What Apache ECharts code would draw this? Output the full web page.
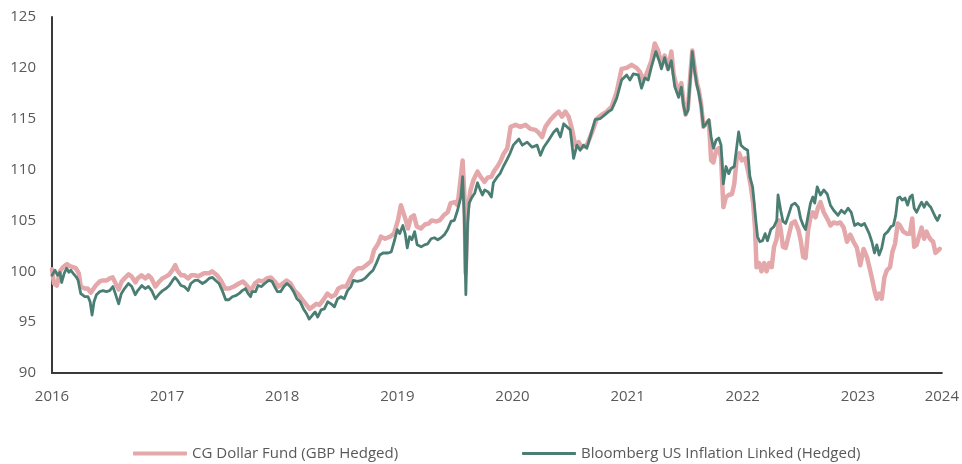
<!DOCTYPE html>
<html>
<head>
<meta charset="utf-8">
<title>CG Dollar Fund vs Bloomberg US Inflation Linked</title>
<script src="https://cdn.jsdelivr.net/npm/echarts@6/dist/echarts.min.js"></script>
<style>
  html, body { margin: 0; padding: 0; background: #fff; }
  #chart { width: 962px; height: 464px; }
</style>
</head>
<body>
<div id="chart"></div>
<script>
// series names (legend order)
var seriesNames = ['CG Dollar Fund (GBP Hedged)', 'Bloomberg US Inflation Linked (Hedged)'];

// y axis ticks
var yMin = 90, yMax = 125, yStep = 5;
// x axis: start of 2016 to end of data (last label reads 2024)
var xStart = 2016, xEnd = 2023.73;

// CG Dollar Fund (GBP Hedged) - time in decimal years, value rebased to 100
var fundTime = [
  2016.000, 2016.017, 2016.043, 2016.069, 2016.095, 2016.130, 2016.155, 2016.181, 2016.207, 2016.233,
  2016.250, 2016.285, 2016.311, 2016.337, 2016.354, 2016.380, 2016.415, 2016.440, 2016.475, 2016.501,
  2016.527, 2016.553, 2016.579, 2016.605, 2016.630, 2016.665, 2016.691, 2016.725, 2016.743, 2016.777,
  2016.812, 2016.838, 2016.864, 2016.898, 2016.933, 2016.959, 2016.993, 2017.019, 2017.045, 2017.071,
  2017.088, 2017.123, 2017.149, 2017.183, 2017.209, 2017.244, 2017.269, 2017.321, 2017.364, 2017.390,
  2017.434, 2017.468, 2017.503, 2017.537, 2017.580, 2017.624, 2017.658, 2017.693, 2017.727, 2017.762,
  2017.796, 2017.831, 2017.865, 2017.900, 2017.934, 2017.969, 2018.004, 2018.038, 2018.073, 2018.107,
  2018.142, 2018.176, 2018.211, 2018.237, 2018.263, 2018.297, 2018.323, 2018.358, 2018.392, 2018.427,
  2018.461, 2018.487, 2018.522, 2018.556, 2018.591, 2018.625, 2018.660, 2018.694, 2018.729, 2018.772,
  2018.798, 2018.833, 2018.858, 2018.893, 2018.936, 2018.971, 2019.005, 2019.031, 2019.048, 2019.074,
  2019.092, 2019.118, 2019.144, 2019.169, 2019.204, 2019.239, 2019.273, 2019.299, 2019.333, 2019.368,
  2019.403, 2019.437, 2019.463, 2019.498, 2019.523, 2019.549, 2019.567, 2019.584, 2019.593, 2019.610,
  2019.636, 2019.662, 2019.696, 2019.722, 2019.757, 2019.783, 2019.817, 2019.843, 2019.869, 2019.895,
  2019.921, 2019.955, 2019.984, 2020.027, 2020.070, 2020.113, 2020.157, 2020.200, 2020.229, 2020.258,
  2020.286, 2020.329, 2020.372, 2020.402, 2020.430, 2020.459, 2020.488, 2020.517, 2020.545, 2020.574,
  2020.603, 2020.646, 2020.689, 2020.733, 2020.776, 2020.819, 2020.862, 2020.905, 2020.948, 2020.992,
  2021.035, 2021.078, 2021.107, 2021.136, 2021.164, 2021.207, 2021.236, 2021.265, 2021.294, 2021.322,
  2021.352, 2021.380, 2021.400, 2021.423, 2021.443, 2021.467, 2021.486, 2021.504, 2021.524, 2021.544,
  2021.562, 2021.581, 2021.602, 2021.619, 2021.639, 2021.659, 2021.682, 2021.706, 2021.726, 2021.746,
  2021.769, 2021.792, 2021.812, 2021.832, 2021.855, 2021.879, 2021.907, 2021.927, 2021.948, 2021.970,
  2021.993, 2022.022, 2022.051, 2022.071, 2022.091, 2022.108, 2022.120, 2022.143, 2022.163, 2022.186,
  2022.207, 2022.229, 2022.252, 2022.272, 2022.293, 2022.316, 2022.330, 2022.350, 2022.373, 2022.397,
  2022.425, 2022.454, 2022.483, 2022.503, 2022.526, 2022.546, 2022.569, 2022.589, 2022.609, 2022.632,
  2022.655, 2022.676, 2022.704, 2022.719, 2022.742, 2022.762, 2022.790, 2022.820, 2022.848, 2022.877,
  2022.906, 2022.935, 2022.963, 2022.992, 2023.021, 2023.050, 2023.079, 2023.107, 2023.127, 2023.145,
  2023.165, 2023.185, 2023.208, 2023.231, 2023.252, 2023.280, 2023.300, 2023.323, 2023.347, 2023.366,
  2023.395, 2023.424, 2023.453, 2023.473, 2023.490, 2023.511, 2023.531, 2023.554, 2023.576, 2023.597,
  2023.617, 2023.634, 2023.654, 2023.675, 2023.692, 2023.712
];
var fundValue = [
  100.2, 98.8, 98.6, 100.0, 100.4, 100.7, 100.5, 100.4, 100.3, 99.8,
  98.5, 98.3, 98.3, 97.9, 98.0, 98.6, 99.0, 99.1, 99.1, 99.3,
  99.4, 98.8, 98.2, 99.0, 99.3, 99.7, 99.5, 98.9, 99.3, 99.6,
  99.3, 99.6, 99.3, 98.5, 99.0, 99.3, 99.5, 99.7, 100.1, 100.6,
  100.1, 99.6, 99.6, 99.3, 99.6, 99.6, 99.5, 99.8, 99.8, 100.0,
  99.6, 99.1, 98.3, 98.3, 98.5, 98.8, 99.0, 98.6, 98.1, 98.8,
  99.1, 99.0, 99.3, 99.4, 99.0, 98.5, 98.8, 99.1, 98.8, 98.1,
  97.7, 97.2, 96.7, 96.3, 96.5, 96.8, 96.7, 97.2, 97.8, 97.5,
  97.7, 98.3, 98.5, 98.5, 99.3, 100.0, 100.3, 100.3, 100.6, 101.0,
  102.1, 102.7, 103.4, 103.2, 103.4, 103.7, 105.0, 106.5, 106.4, 105.0,
  104.2, 105.3, 105.5, 104.4, 104.2, 104.6, 104.7, 105.0, 104.9, 105.0,
  105.5, 105.8, 106.7, 106.8, 106.5, 109.0, 110.9, 107.0, 99.8, 106.0,
  108.0, 109.0, 109.8, 109.3, 108.8, 109.2, 109.3, 109.9, 110.3, 110.8,
  111.5, 112.1, 114.2, 114.4, 114.2, 114.4, 114.0, 113.9, 113.6, 113.2,
  114.2, 114.9, 115.4, 115.7, 115.2, 115.7, 115.2, 114.0, 112.4, 112.7,
  112.2, 112.4, 113.6, 115.0, 115.4, 115.7, 116.2, 117.6, 119.9, 120.0,
  120.3, 120.0, 119.6, 118.8, 119.4, 120.7, 122.4, 121.7, 120.4, 121.2,
  119.9, 121.6, 119.4, 118.3, 117.7, 118.5, 116.6, 115.4, 116.0, 119.1,
  121.7, 120.1, 118.5, 117.8, 116.4, 114.2, 114.5, 114.8, 110.9, 110.7,
  111.9, 112.1, 111.2, 106.3, 107.3, 107.5, 107.6, 108.6, 111.1, 111.6,
  110.9, 111.1, 109.6, 108.3, 106.7, 104.1, 100.4, 100.8, 100.0, 100.8,
  100.0, 100.8, 100.4, 102.4, 103.1, 105.0, 104.1, 102.4, 102.3, 103.4,
  104.7, 104.9, 104.1, 103.1, 101.4, 101.3, 104.1, 105.3, 105.8, 105.3,
  106.3, 106.8, 105.8, 105.8, 105.0, 104.5, 104.8, 104.7, 104.8, 104.3,
  102.9, 103.6, 102.9, 102.3, 100.6, 102.2, 101.4, 100.1, 99.1, 98.1,
  97.3, 97.8, 97.3, 99.4, 100.1, 100.4, 101.9, 102.7, 104.7, 104.5,
  103.9, 103.7, 103.7, 105.2, 102.4, 102.6, 103.4, 104.3, 103.2, 103.9,
  103.4, 103.1, 102.9, 101.8, 101.9, 102.2
];

// Bloomberg US Inflation Linked (Hedged)
var indexTime = [
  2016.000, 2016.026, 2016.049, 2016.069, 2016.084, 2016.106, 2016.127, 2016.147, 2016.164, 2016.184,
  2016.213, 2016.227, 2016.250, 2016.285, 2016.313, 2016.331, 2016.348, 2016.365, 2016.386, 2016.415,
  2016.443, 2016.472, 2016.501, 2016.529, 2016.550, 2016.579, 2016.602, 2016.630, 2016.665, 2016.693,
  2016.723, 2016.745, 2016.780, 2016.809, 2016.838, 2016.866, 2016.898, 2016.933, 2016.961, 2016.991,
  2017.019, 2017.048, 2017.068, 2017.091, 2017.120, 2017.149, 2017.183, 2017.206, 2017.241, 2017.269,
  2017.307, 2017.336, 2017.364, 2017.393, 2017.422, 2017.451, 2017.479, 2017.509, 2017.537, 2017.566,
  2017.595, 2017.624, 2017.652, 2017.681, 2017.704, 2017.725, 2017.738, 2017.768, 2017.790, 2017.820,
  2017.848, 2017.883, 2017.911, 2017.934, 2017.958, 2017.986, 2018.015, 2018.041, 2018.070, 2018.099,
  2018.127, 2018.156, 2018.185, 2018.213, 2018.234, 2018.263, 2018.286, 2018.308, 2018.338, 2018.366,
  2018.395, 2018.424, 2018.453, 2018.481, 2018.510, 2018.539, 2018.567, 2018.597, 2018.617, 2018.654,
  2018.688, 2018.718, 2018.761, 2018.789, 2018.818, 2018.847, 2018.876, 2018.919, 2018.947, 2018.977,
  2018.999, 2019.020, 2019.048, 2019.068, 2019.086, 2019.106, 2019.126, 2019.150, 2019.172, 2019.207,
  2019.236, 2019.264, 2019.293, 2019.322, 2019.351, 2019.379, 2019.409, 2019.437, 2019.466, 2019.495,
  2019.523, 2019.552, 2019.567, 2019.581, 2019.595, 2019.610, 2019.624, 2019.644, 2019.673, 2019.696,
  2019.720, 2019.739, 2019.759, 2019.789, 2019.817, 2019.834, 2019.863, 2019.892, 2019.921, 2019.949,
  2019.979, 2020.007, 2020.056, 2020.085, 2020.128, 2020.171, 2020.214, 2020.243, 2020.272, 2020.315,
  2020.359, 2020.387, 2020.416, 2020.445, 2020.473, 2020.502, 2020.531, 2020.560, 2020.588, 2020.618,
  2020.646, 2020.675, 2020.718, 2020.761, 2020.804, 2020.834, 2020.862, 2020.905, 2020.948, 2020.992,
  2021.020, 2021.049, 2021.093, 2021.121, 2021.150, 2021.179, 2021.207, 2021.245, 2021.274, 2021.294,
  2021.322, 2021.352, 2021.380, 2021.409, 2021.443, 2021.467, 2021.486, 2021.504, 2021.524, 2021.544,
  2021.562, 2021.581, 2021.602, 2021.619, 2021.639, 2021.659, 2021.682, 2021.706, 2021.726, 2021.746,
  2021.769, 2021.792, 2021.812, 2021.832, 2021.855, 2021.879, 2021.898, 2021.927, 2021.948, 2021.965,
  2021.985, 2022.013, 2022.043, 2022.062, 2022.086, 2022.100, 2022.114, 2022.129, 2022.149, 2022.172,
  2022.195, 2022.215, 2022.244, 2022.272, 2022.296, 2022.307, 2022.330, 2022.350, 2022.373, 2022.397,
  2022.425, 2022.454, 2022.483, 2022.503, 2022.526, 2022.546, 2022.569, 2022.589, 2022.609, 2022.626,
  2022.647, 2022.676, 2022.704, 2022.734, 2022.762, 2022.790, 2022.828, 2022.857, 2022.885, 2022.915,
  2022.943, 2022.972, 2023.001, 2023.030, 2023.058, 2023.079, 2023.099, 2023.122, 2023.145, 2023.165,
  2023.185, 2023.208, 2023.231, 2023.260, 2023.289, 2023.309, 2023.329, 2023.347, 2023.366, 2023.386,
  2023.410, 2023.433, 2023.453, 2023.473, 2023.490, 2023.511, 2023.531, 2023.554, 2023.576, 2023.597,
  2023.617, 2023.634, 2023.654, 2023.675, 2023.692, 2023.712
];
var indexValue = [
  99.6, 100.1, 99.6, 99.9, 98.9, 99.8, 100.3, 99.9, 100.1, 99.8,
  99.4, 99.1, 97.8, 97.5, 97.5, 97.0, 95.7, 97.0, 97.7, 98.0,
  98.1, 98.0, 98.1, 98.5, 97.8, 96.8, 97.8, 98.3, 98.8, 98.5,
  97.7, 98.1, 98.6, 98.3, 98.5, 98.1, 97.3, 97.8, 98.1, 98.3,
  98.6, 99.1, 99.4, 99.1, 98.6, 98.5, 98.1, 98.8, 99.1, 99.1,
  98.8, 99.0, 99.3, 99.4, 99.1, 98.8, 98.1, 97.2, 97.2, 97.5,
  97.6, 97.8, 98.1, 98.3, 97.8, 97.5, 98.0, 98.0, 98.6, 98.5,
  98.8, 99.1, 99.0, 98.5, 98.0, 98.0, 98.5, 98.8, 98.5, 98.0,
  97.3, 97.0, 96.3, 95.8, 95.3, 95.7, 96.0, 95.5, 96.2, 96.3,
  97.0, 96.8, 96.5, 97.3, 97.5, 97.3, 98.1, 98.5, 99.1, 99.0,
  99.1, 99.3, 99.8, 100.1, 100.8, 101.6, 101.8, 101.8, 101.9, 103.1,
  104.1, 103.7, 104.5, 103.7, 102.3, 103.4, 103.1, 103.9, 102.6, 102.4,
  102.6, 102.7, 103.2, 103.3, 103.1, 103.3, 103.6, 104.1, 104.9, 105.0,
  106.0, 107.3, 109.3, 105.3, 97.7, 104.7, 106.7, 107.2, 107.7, 108.7,
  108.0, 107.5, 108.0, 107.8, 107.3, 108.7, 109.2, 109.6, 110.3, 110.9,
  111.6, 112.4, 113.0, 112.4, 112.7, 112.2, 112.4, 111.4, 112.2, 112.9,
  113.7, 114.0, 113.2, 114.5, 114.2, 113.9, 111.1, 112.4, 111.9, 112.4,
  112.1, 113.2, 114.9, 115.0, 115.4, 115.7, 115.9, 117.0, 118.8, 119.3,
  118.8, 119.4, 119.3, 118.0, 119.0, 118.8, 120.1, 121.6, 120.7, 119.9,
  121.0, 119.8, 120.7, 118.2, 117.1, 118.1, 116.3, 115.4, 115.8, 118.8,
  121.6, 119.8, 118.3, 117.5, 116.2, 114.2, 114.5, 114.9, 113.2, 112.1,
  112.9, 113.1, 112.4, 108.6, 110.3, 109.6, 110.1, 110.3, 112.2, 113.7,
  112.4, 112.1, 111.9, 109.3, 108.3, 106.7, 105.0, 103.4, 102.9, 103.0,
  103.7, 103.0, 104.1, 104.4, 105.0, 107.5, 106.0, 104.9, 104.7, 105.5,
  106.5, 106.7, 106.3, 105.2, 104.5, 104.1, 105.5, 106.7, 107.3, 106.7,
  108.3, 107.5, 108.0, 107.6, 106.5, 106.0, 105.5, 106.0, 105.7, 106.2,
  105.8, 104.5, 104.7, 104.5, 104.7, 104.2, 103.7, 102.9, 101.8, 102.6,
  101.6, 102.3, 103.6, 103.9, 104.4, 104.5, 105.5, 107.2, 107.3, 107.0,
  107.2, 106.5, 107.3, 107.5, 106.2, 105.8, 106.3, 106.8, 106.3, 106.8,
  106.5, 106.3, 105.8, 105.3, 105.0, 105.5
];

var fundColor = '#e4a7aa';
var indexColor = '#4b7e73';

function zip(t, v) {
  var out = [];
  for (var i = 0; i < t.length; i++) {
    out.push([t[i], v[i]]);
  }
  return out;
}

var chart = echarts.init(document.getElementById('chart'));

var textColor = '#595959';
var fontFamily = '"Open Sans", "Noto Sans", sans-serif';

// one legend per series so each key line keeps its own thickness
function makeLegend(name, left, thickness, color) {
  return {
    left: left,
    top: 441,
    itemWidth: 54,
    itemHeight: thickness,
    icon: 'roundRect',
    itemStyle: { color: color },
    textStyle: {
      color: textColor,
      fontSize: 15,
      fontFamily: fontFamily
    },
    data: [name]
  };
}

var option = {
  backgroundColor: '#ffffff',
  animation: false,
  grid: {
    left: 52,
    right: 15,
    top: 17,
    bottom: 91
  },
  legend: [
    makeLegend(seriesNames[0], 128, 4, fundColor),
    makeLegend(seriesNames[1], 517, 3, indexColor)
  ],
  xAxis: {
    type: 'value',
    min: xStart,
    max: xEnd,
    interval: 1,
    splitLine: { show: false },
    axisTick: { show: false },
    axisLine: {
      show: true,
      lineStyle: { color: '#3a3a3a', width: 2 }
    },
    axisLabel: {
      color: textColor,
      fontSize: 15,
      fontFamily: fontFamily,
      margin: 16,
      showMaxLabel: true,
      formatter: function(v) {
        // the axis end is labelled as the next year
        if (v > 2023.5) return '2024';
        return String(Math.round(v));
      }
    }
  },
  yAxis: {
    type: 'value',
    min: yMin,
    max: yMax,
    interval: yStep,
    splitLine: { show: false },
    axisTick: { show: false },
    axisLine: {
      show: true,
      lineStyle: { color: '#3a3a3a', width: 2 }
    },
    axisLabel: {
      color: textColor,
      fontSize: 15,
      fontFamily: fontFamily,
      margin: 16
    }
  },
  series: [
    {
      name: seriesNames[0],
      type: 'line',
      data: zip(fundTime, fundValue),
      symbol: 'none',
      lineStyle: { color: fundColor, width: 4.5, join: 'round', cap: 'round' },
      itemStyle: { color: fundColor },
      z: 2
    },
    {
      name: seriesNames[1],
      type: 'line',
      data: zip(indexTime, indexValue),
      symbol: 'none',
      lineStyle: { color: indexColor, width: 2.8, join: 'round', cap: 'round' },
      itemStyle: { color: indexColor },
      z: 3
    }
  ]
};

chart.setOption(option);
</script>
</body>
</html>
